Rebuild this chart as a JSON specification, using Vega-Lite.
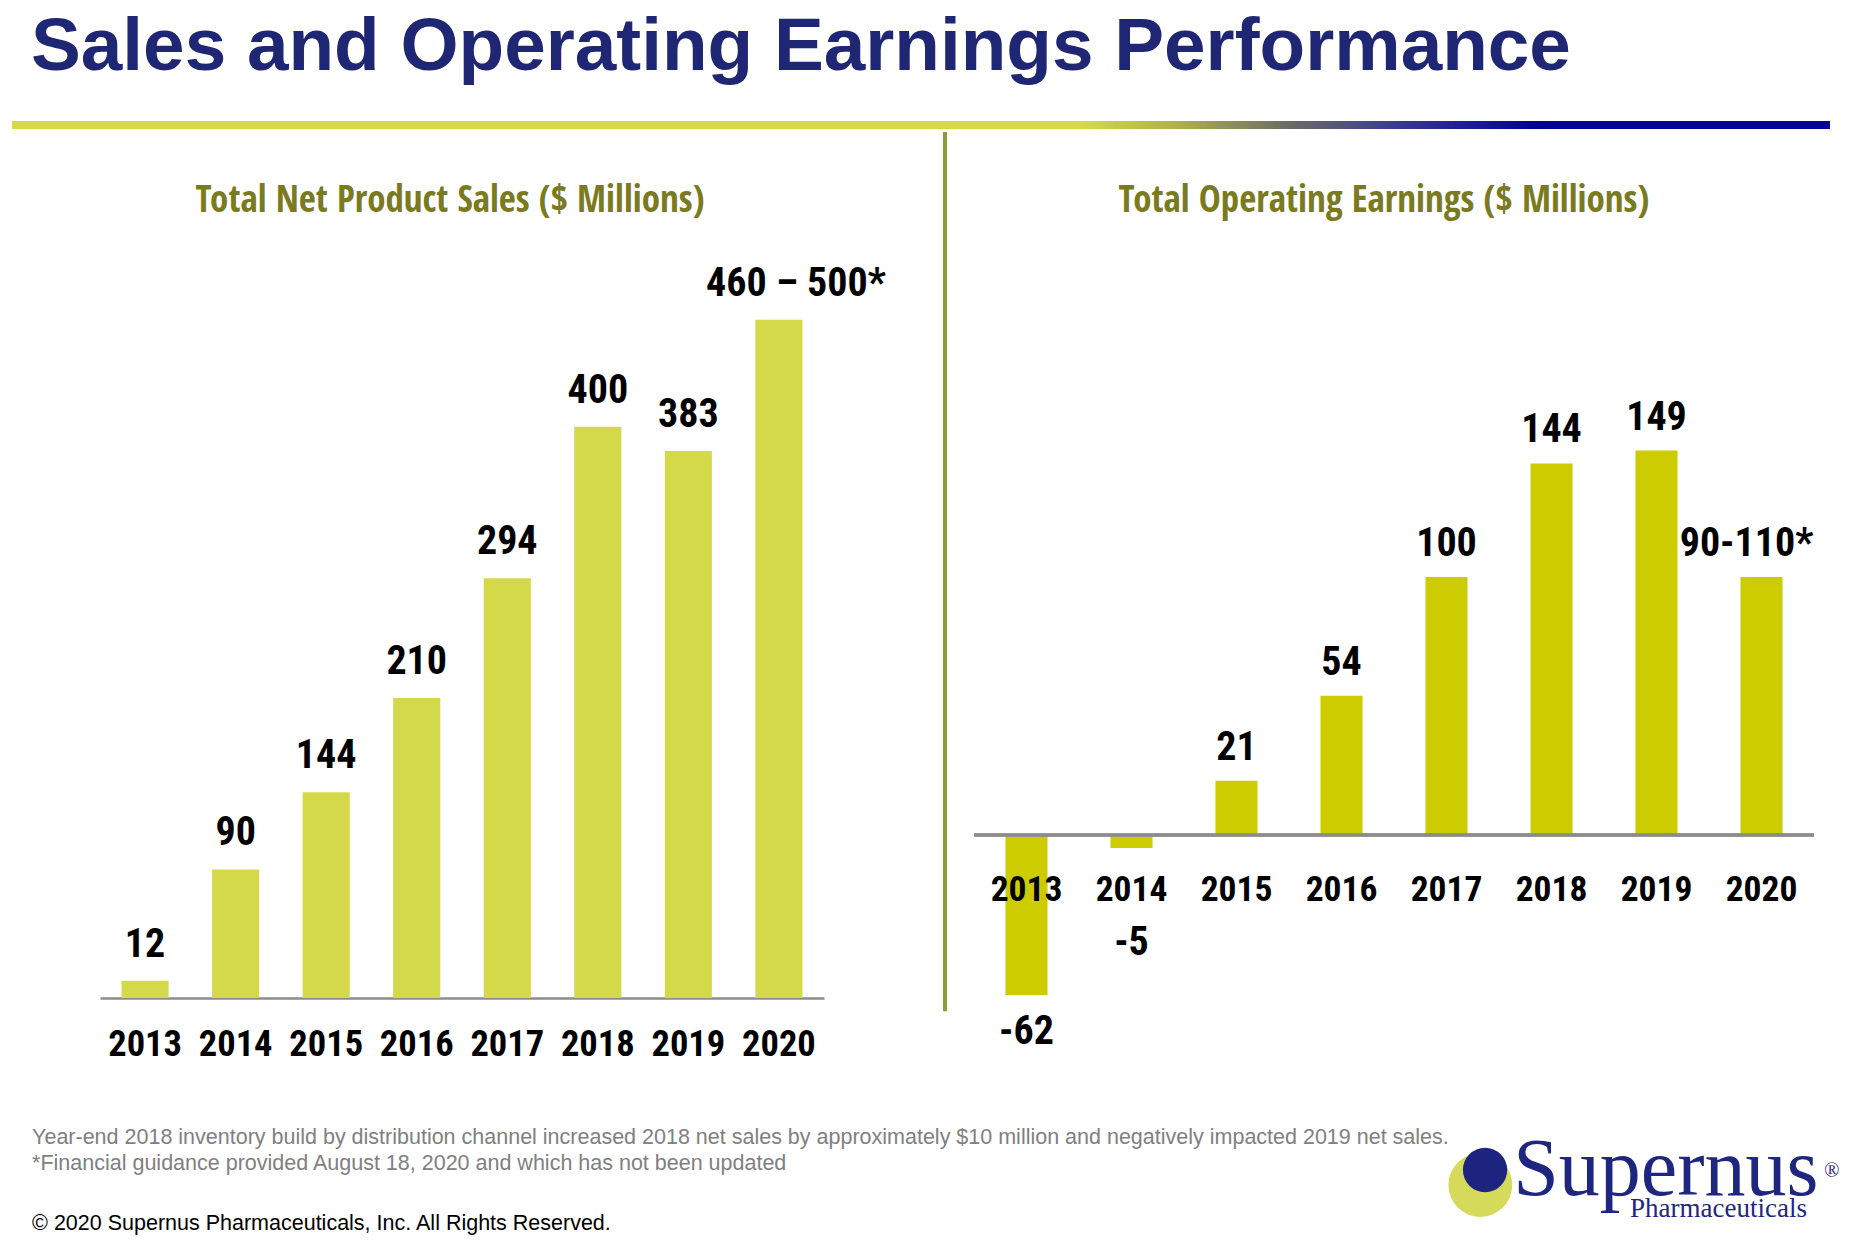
{
  "$schema": "https://vega.github.io/schema/vega-lite/v6.json",
  "background": "white",
  "padding": {"left": 12, "top": 10, "right": 16, "bottom": 0},
  "title": {
    "text": "Sales and Operating Earnings Performance",
    "anchor": "start",
    "dx": 19,
    "fontSize": 74.7,
    "font": "Liberation Sans",
    "fontWeight": "bold",
    "color": "#1f2673",
    "baseline": "top",
    "offset": 35
  },
  "config": {"view": {"stroke": null}, "axis": {"grid": false}},
  "datasets": {
    "sales": [
      {"year": "2013", "value": 12, "label": "12"},
      {"year": "2014", "value": 90, "label": "90"},
      {"year": "2015", "value": 144, "label": "144"},
      {"year": "2016", "value": 210, "label": "210"},
      {"year": "2017", "value": 294, "label": "294"},
      {"year": "2018", "value": 400, "label": "400"},
      {"year": "2019", "value": 383, "label": "383"},
      {"year": "2020", "value": 475, "label": "460 – 500*"}
    ],
    "earnings": [
      {"year": "2013", "value": -62, "label": "-62"},
      {"year": "2014", "value": -5, "label": "-5"},
      {"year": "2015", "value": 21, "label": "21"},
      {"year": "2016", "value": 54, "label": "54"},
      {"year": "2017", "value": 100, "label": "100"},
      {"year": "2018", "value": 144, "label": "144"},
      {"year": "2019", "value": 149, "label": "149"},
      {"year": "2020", "value": 100, "label": "90-110*"}
    ],
    "notes": [
      {"kind": "note", "text": "Year-end 2018 inventory build by distribution channel increased 2018 net sales by approximately $10 million and negatively impacted 2019 net sales.\n*Financial guidance provided August 18, 2020 and which has not been updated"},
      {"kind": "copyright", "text": "© 2020 Supernus Pharmaceuticals, Inc. All Rights Reserved."}
    ],
    "logo": [
      {"brand": "Supernus", "division": "Pharmaceuticals", "reg": "®"}
    ]
  },
  "spacing": 0,
  "vconcat": [
    {
      "width": 1818,
      "height": 8,
      "data": {"values": [{"part": "title rule"}]},
      "mark": {
        "type": "rect",
        "fill": {
          "gradient": "linear",
          "x1": 0, "y1": 0, "x2": 1, "y2": 0,
          "stops": [
            {"offset": 0, "color": "#d4d944"},
            {"offset": 0.589, "color": "#d4d944"},
            {"offset": 0.64, "color": "#b0b050"},
            {"offset": 0.70, "color": "#6e6e66"},
            {"offset": 0.76, "color": "#3a3d8a"},
            {"offset": 0.84, "color": "#000099"},
            {"offset": 1, "color": "#000099"}
          ]
        }
      },
      "encoding": {
        "x": {"datum": 0, "type": "quantitative", "scale": {"domain": [0, 1], "nice": false}, "axis": null},
        "x2": {"datum": 1},
        "y": {"datum": 1, "type": "quantitative", "scale": {"domain": [0, 1], "nice": false}, "axis": null},
        "y2": {"datum": 0}
      }
    },
    {
      "bounds": "flush",
      "spacing": 29,
      "hconcat": [
        {
          "width": 59,
          "height": 741,
          "data": {"values": []},
          "mark": "point"
        },
        {
          "width": 724,
          "height": 741,
          "title": {
            "text": "Total Net Product Sales ($ Millions)",
            "font": "Open Sans Condensed, Roboto Condensed, sans-serif",
            "fontSize": 37,
            "fontWeight": "bold",
            "color": "#7a7a1f",
            "frame": "group",
            "anchor": "middle",
            "dx": -12,
            "offset": 37
          },
          "data": {"name": "sales"},
          "encoding": {
            "x": {
              "field": "year",
              "type": "ordinal",
              "scale": {"paddingInner": 0.48, "paddingOuter": 0.238},
              "axis": {
                "title": null,
                "labelAngle": 0,
                "labelFont": "Roboto Condensed, Open Sans Condensed, sans-serif",
                "labelFontSize": 36.5,
                "labelFontWeight": "bold",
                "labelColor": "black",
                "ticks": false,
                "domainColor": "#8c8c8c",
                "domainWidth": 2.5,
                "labelPadding": 28
              }
            },
            "y": {"field": "value", "type": "quantitative", "scale": {"domain": [0, 518.9], "nice": false}, "axis": null}
          },
          "layer": [
            {"mark": {"type": "bar", "color": "#d4d94a"}},
            {
              "transform": [{"filter": "datum.year != '2020'"}],
              "mark": {"type": "text", "font": "Roboto Condensed, Open Sans Condensed, sans-serif", "fontSize": 40, "fontWeight": "bold", "baseline": "alphabetic", "dy": -24, "color": "black"},
              "encoding": {"text": {"field": "label"}}
            },
            {
              "transform": [{"filter": "datum.year == '2020'"}],
              "mark": {"type": "text", "font": "Roboto Condensed, Open Sans Condensed, sans-serif", "fontSize": 40, "fontWeight": "bold", "baseline": "alphabetic", "dy": -24, "dx": 17, "color": "black"},
              "encoding": {"text": {"field": "label"}}
            }
          ]
        },
        {
          "width": 92,
          "height": 741,
          "data": {"values": [{"part": "divider"}]},
          "mark": {"type": "rule", "color": "#8f9a3c", "strokeWidth": 4},
          "encoding": {
            "x": {"datum": 1, "type": "quantitative", "scale": {"domain": [0, 1], "nice": false}, "axis": null},
            "y": {"datum": 1.1687, "type": "quantitative", "scale": {"domain": [0, 1], "nice": false}, "axis": null},
            "y2": {"datum": -0.018}
          }
        },
        {
          "width": 840,
          "height": 741,
          "title": {
            "text": "Total Operating Earnings ($ Millions)",
            "font": "Open Sans Condensed, Roboto Condensed, sans-serif",
            "fontSize": 37,
            "fontWeight": "bold",
            "color": "#7a7a1f",
            "frame": "group",
            "anchor": "middle",
            "dx": -10,
            "offset": 37
          },
          "data": {"name": "earnings"},
          "layer": [
            {
              "mark": {"type": "bar", "color": "#cccc00"},
              "encoding": {
                "x": {"field": "year", "type": "ordinal", "scale": {"paddingInner": 0.6, "paddingOuter": 0.3}, "axis": null},
                "y": {"field": "value", "type": "quantitative", "scale": {"domain": [-63.18, 224.0], "nice": false, "zero": false}, "axis": null}
              }
            },
            {
              "mark": {"type": "rule", "color": "#8c8c8c", "strokeWidth": 2.5},
              "encoding": {"y": {"datum": 0, "type": "quantitative"}}
            },
            {
              "mark": {"type": "text", "font": "Roboto Condensed, Open Sans Condensed, sans-serif", "fontSize": 35.5, "fontWeight": "bold", "baseline": "middle", "dy": 55, "color": "black"},
              "encoding": {
                "x": {"field": "year", "type": "ordinal"},
                "y": {"datum": 0, "type": "quantitative"},
                "text": {"field": "year"}
              }
            },
            {
              "transform": [{"filter": "datum.value > 0 && datum.year != '2020'"}],
              "mark": {"type": "text", "font": "Roboto Condensed, Open Sans Condensed, sans-serif", "fontSize": 40, "fontWeight": "bold", "baseline": "alphabetic", "dy": -21, "color": "black"},
              "encoding": {
                "x": {"field": "year", "type": "ordinal"},
                "y": {"field": "value", "type": "quantitative"},
                "text": {"field": "label"}
              }
            },
            {
              "transform": [{"filter": "datum.year == '2020'"}],
              "mark": {"type": "text", "font": "Roboto Condensed, Open Sans Condensed, sans-serif", "fontSize": 40, "fontWeight": "bold", "baseline": "alphabetic", "dy": -21, "dx": -15, "color": "black"},
              "encoding": {
                "x": {"field": "year", "type": "ordinal"},
                "y": {"field": "value", "type": "quantitative"},
                "text": {"field": "label"}
              }
            },
            {
              "transform": [{"filter": "datum.year == '2013'"}],
              "mark": {"type": "text", "font": "Roboto Condensed, Open Sans Condensed, sans-serif", "fontSize": 40, "fontWeight": "bold", "baseline": "middle", "dy": 37, "color": "black"},
              "encoding": {
                "x": {"field": "year", "type": "ordinal"},
                "y": {"field": "value", "type": "quantitative"},
                "text": {"field": "label"}
              }
            },
            {
              "transform": [{"filter": "datum.year == '2014'"}],
              "mark": {"type": "text", "font": "Roboto Condensed, Open Sans Condensed, sans-serif", "fontSize": 40, "fontWeight": "bold", "baseline": "middle", "dy": 95, "color": "black"},
              "encoding": {
                "x": {"field": "year", "type": "ordinal"},
                "y": {"field": "value", "type": "quantitative"},
                "text": {"field": "label"}
              }
            }
          ]
        }
      ]
    },
    {
      "width": 1824,
      "height": 181,
      "layer": [
        {
          "data": {"name": "notes"},
          "transform": [{"filter": "datum.kind == 'note'"}],
          "mark": {"type": "text", "align": "left", "baseline": "alphabetic", "font": "Liberation Sans", "fontSize": 21.5, "color": "#808080", "lineBreak": "\n", "lineHeight": 26},
          "encoding": {
            "x": {"datum": 0.011, "type": "quantitative", "scale": {"domain": [0, 1], "nice": false}, "axis": null},
            "y": {"datum": 0.5525, "type": "quantitative", "scale": {"domain": [0, 1], "nice": false}, "axis": null},
            "text": {"field": "text"}
          }
        },
        {
          "data": {"name": "notes"},
          "transform": [{"filter": "datum.kind == 'copyright'"}],
          "mark": {"type": "text", "align": "left", "baseline": "alphabetic", "font": "Liberation Sans", "fontSize": 21.5, "color": "black"},
          "encoding": {
            "x": {"datum": 0.011, "type": "quantitative"},
            "y": {"datum": 0.0773, "type": "quantitative"},
            "text": {"field": "text"}
          }
        },
        {
          "data": {"name": "logo"},
          "mark": {"type": "point", "shape": "circle", "filled": true, "opacity": 1, "color": "#d6da5a", "size": 4072},
          "encoding": {
            "x": {"datum": 0.805, "type": "quantitative"},
            "y": {"datum": 0.326, "type": "quantitative"}
          }
        },
        {
          "data": {"name": "logo"},
          "mark": {"type": "point", "shape": "circle", "filled": true, "opacity": 1, "color": "#1c2480", "size": 1963},
          "encoding": {
            "x": {"datum": 0.8076, "type": "quantitative"},
            "y": {"datum": 0.4088, "type": "quantitative"}
          }
        },
        {
          "data": {"name": "logo"},
          "mark": {"type": "text", "align": "left", "baseline": "alphabetic", "font": "Liberation Serif", "fontSize": 82, "color": "#1f2680"},
          "encoding": {
            "x": {"datum": 0.823, "type": "quantitative"},
            "y": {"datum": 0.2707, "type": "quantitative"},
            "text": {"field": "brand"}
          }
        },
        {
          "data": {"name": "logo"},
          "mark": {"type": "text", "align": "left", "baseline": "alphabetic", "font": "Liberation Serif", "fontSize": 27, "color": "#1f2680"},
          "encoding": {
            "x": {"datum": 0.8871, "type": "quantitative"},
            "y": {"datum": 0.1492, "type": "quantitative"},
            "text": {"field": "division"}
          }
        },
        {
          "data": {"name": "logo"},
          "mark": {"type": "text", "align": "left", "baseline": "alphabetic", "font": "Liberation Serif", "fontSize": 20, "color": "#1f2680"},
          "encoding": {
            "x": {"datum": 0.9935, "type": "quantitative"},
            "y": {"datum": 0.3702, "type": "quantitative"},
            "text": {"field": "reg"}
          }
        }
      ]
    }
  ]
}
